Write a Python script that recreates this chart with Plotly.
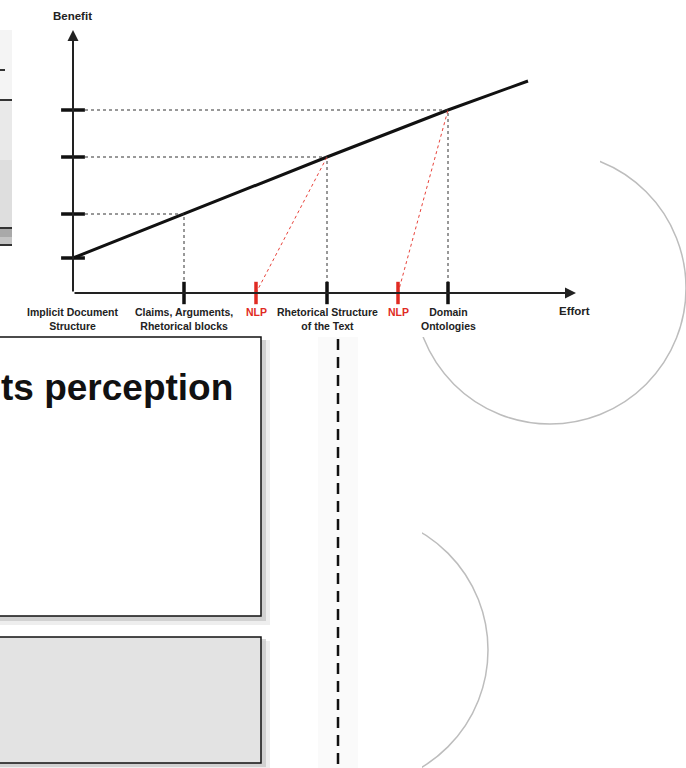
import plotly.graph_objects as go

# --- chart data ---
effort_labels = ["Implicit Document<br>Structure", "Claims, Arguments,<br>Rhetorical blocks", "NLP",
                 "Rhetorical Structure<br>of the Text", "NLP", "Domain<br>Ontologies"]
effort_pos = [0.0, 1.11, 1.83, 2.54, 3.25, 3.75]
is_nlp = [False, False, True, False, True, False]

benefit_levels = [0.35, 0.79, 1.36, 1.83]
curve_effort = [0.0, 1.11, 2.54, 3.75, 4.55]
curve_benefit = [0.35, 0.79, 1.36, 1.83, 2.12]

# red dashed links: NLP tick -> point on the curve
nlp_from = [1.83, 3.25]
nlp_to_effort = [2.54, 3.75]
nlp_to_benefit = [1.36, 1.83]

effort_axis_end = 5.03
benefit_axis_end = 2.63

W, H = 686, 768
X0, Y0, SCALE = 73, 293, 100  # pixel position of the origin, px per unit


def px(x):
    return x / W


def py(y):
    return 1 - y / H


fig = go.Figure()

# main benefit curve
fig.add_trace(go.Scatter(x=curve_effort, y=curve_benefit, mode="lines",
                         line=dict(color="#111111", width=3)))

# black dashed guides (horizontal to y axis, vertical to x axis)
for e, b in zip(curve_effort[1:4], curve_benefit[1:4]):
    fig.add_trace(go.Scatter(x=[0, e, e], y=[b, b, 0], mode="lines",
                             line=dict(color="#333333", width=1, dash="3px,3px")))

# red dashed NLP links
for f, e, b in zip(nlp_from, nlp_to_effort, nlp_to_benefit):
    fig.add_trace(go.Scatter(x=[f, e], y=[0, b], mode="lines",
                             line=dict(color="#e8423a", width=1, dash="3px,3px")))

# y tick marks
fig.add_trace(go.Scatter(x=[0] * len(benefit_levels), y=benefit_levels, mode="markers",
                         marker=dict(symbol="line-ew", size=17,
                                     line=dict(color="#111111", width=3.5))))

# x tick marks
tick_x = effort_pos[1:]
tick_col = ["#e02a22" if n else "#111111" for n in is_nlp[1:]]
fig.add_trace(go.Scatter(x=tick_x, y=[0] * len(tick_x), mode="markers",
                         marker=dict(symbol="line-ns", size=16,
                                     line=dict(color=tick_col, width=3.5))))

label_font = dict(family="Liberation Sans", size=10.5, weight="bold", color="#222222")
annotations = []
for lab, x, n in zip(effort_labels, effort_pos, is_nlp):
    f = dict(label_font)
    if n:
        f["color"] = "#e02a22"
    annotations.append(dict(x=x, y=0, xref="x", yref="y", text=lab, showarrow=False,
                            yanchor="top", yshift=-11, font=f, align="center"))

annotations += [
    dict(x=effort_axis_end - 0.02, y=0, xref="x", yref="y", text="Effort", showarrow=False,
         yanchor="top", yshift=-10, font=dict(label_font, size=11.5)),
    dict(x=-0.01, y=2.77, xref="x", yref="y", text="Benefit", showarrow=False,
         yanchor="middle", font=dict(label_font, size=11.5)),
    # axes with arrow heads
    dict(x=0, y=benefit_axis_end, ax=0, ay=0, xref="x", yref="y", axref="x", ayref="y",
         text="", showarrow=True, arrowhead=2, arrowsize=1.1, arrowwidth=2, arrowcolor="#222222"),
    dict(x=effort_axis_end, y=0, ax=0, ay=0, xref="x", yref="y", axref="x", ayref="y",
         text="", showarrow=True, arrowhead=2, arrowsize=1.1, arrowwidth=2, arrowcolor="#222222"),
    # slide text behind the chart
    dict(x=0, y=py(387), xref="paper", yref="paper", xanchor="left", yanchor="middle",
         text="ts perception", showarrow=False, borderpad=0,
         font=dict(family="Liberation Sans", size=37, weight="bold", color="#111111")),
]

# --- slide background pieces ---
def rect(x0, y0, x1, y1, fill, line_color=None, line_width=0, opacity=1):
    return dict(type="rect", xref="paper", yref="paper", layer="below",
                x0=px(x0), x1=px(x1), y0=py(y0), y1=py(y1), fillcolor=fill,
                opacity=opacity, line=dict(color=line_color or fill, width=line_width))


def circle(cx, cy, r):
    return dict(type="circle", xref="paper", yref="paper", layer="below",
                x0=px(cx - r), x1=px(cx + r), y0=py(cy - r), y1=py(cy + r),
                line=dict(color="#bdbdbd", width=1.5))


shapes = [
    circle(550, 288, 136),
    circle(351, 650, 137),
    rect(12, 0, 600, 337, "white"),      # chart card hides the circle
    rect(0, 500, 422, 768, "white"),     # hides left part of the lower circle
    rect(318, 337, 358, 768, "#fafafa"),  # faint shadow strip
    # top-left panel fragment
    rect(0, 30, 12, 100, "#f4f4f4"),
    rect(0, 100, 12, 160, "#e9e9e9"),
    rect(0, 160, 12, 228, "#dedede"),
    rect(0, 228, 12, 237, "#a9a9a9"),
    rect(0, 237, 12, 245, "#c4c4c4"),
    rect(0, 69, 5, 71, "#333333"),
    rect(0, 99, 12, 101, "#333333"),
    rect(0, 227, 12, 229, "#333333"),
    rect(0, 244, 12, 246, "#333333"),
    # boxes with drop shadows
    rect(0, 340, 270, 625, "#e2e2e2", opacity=0.6),
    rect(0, 340, 266, 621, "#c4c4c4", opacity=0.7),
    rect(-5, 337, 261, 616, "white", "#111111", 1.5),
    rect(0, 641, 270, 768, "#e2e2e2", opacity=0.6),
    rect(0, 639, 266, 767, "#c4c4c4", opacity=0.7),
    rect(-5, 637, 261, 763, "#e3e3e3", "#111111", 1.5),
    # dashed divider
    dict(type="line", xref="paper", yref="paper", layer="below",
         x0=px(338), x1=px(338), y0=py(339), y1=py(768),
         line=dict(color="#111111", width=2.5, dash="11px,7px")),
]

fig.update_layout(
    width=W, height=H,
    margin=dict(l=0, r=0, t=0, b=0),
    paper_bgcolor="white", plot_bgcolor="rgba(0,0,0,0)",
    showlegend=False,
    xaxis=dict(range=[-X0 / SCALE, (W - X0) / SCALE], visible=False, fixedrange=True),
    yaxis=dict(range=[(Y0 - H) / SCALE, Y0 / SCALE], visible=False, fixedrange=True),
    shapes=shapes,
    annotations=annotations,
)

# the page body has a default 8px margin; drop it so the figure sits at 0,0
fig.write_html("out.html", config={"displayModeBar": False},
               post_script="document.body.style.margin='0';")
